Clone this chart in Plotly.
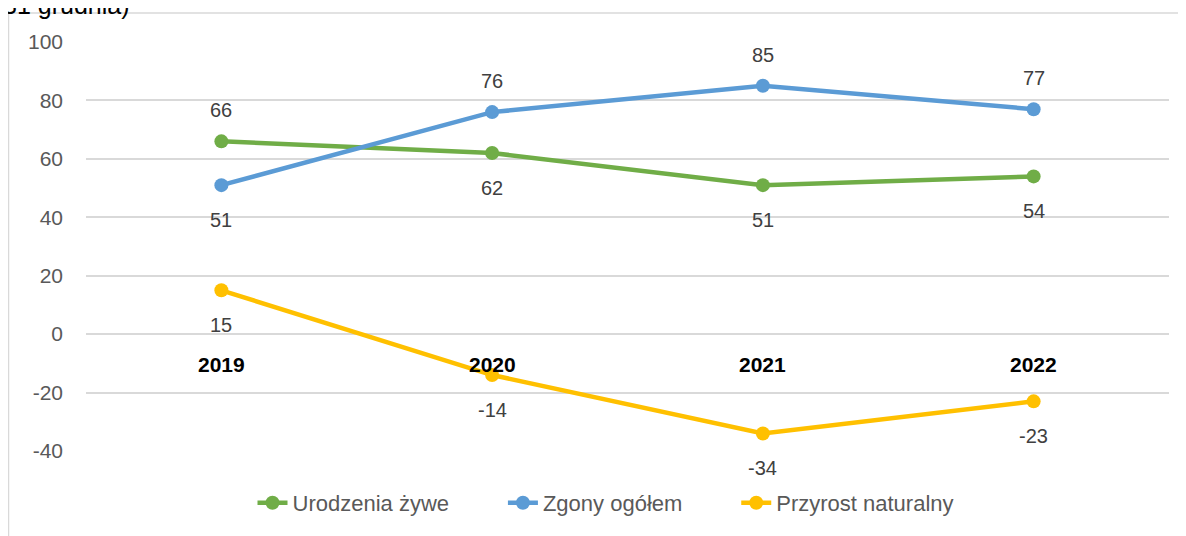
import plotly.graph_objects as go

YEARS = ["2019", "2020", "2021", "2022"]
URODZENIA = [66, 62, 51, 54]
ZGONY = [51, 76, 85, 77]
PRZYROST = [15, -14, -34, -23]

# which side of the point the data label sits on
URODZENIA_SIDE = ["above", "below", "below", "below"]
ZGONY_SIDE = ["below", "above", "above", "above"]
PRZYROST_SIDE = ["below", "below", "below", "below"]

Y_TICKS = [-40, -20, 0, 20, 40, 60, 80, 100]
Y_TICK_TEXT = ["-40", "-20", "0", "20", "40", "60", "80", "100"]

GREEN = "#70AD47"
BLUE = "#5B9BD5"
YELLOW = "#FFC000"
GRID = "#D9D9D9"
FONT = "Liberation Sans, Arial, sans-serif"

# the page body has an 8px margin, so the figure is drawn 8px in from the corner
OFF = 8
W, H = 1186 - OFF, 536 - OFF
PX0, PX1, PY0, PY1 = 86, 1169, 42, 451  # plot area in screen pixels
L, T = PX0 - OFF, PY0 - OFF
R = W - (PX1 - OFF)
B = H - (PY1 - OFF)
PW, PH = PX1 - PX0, PY1 - PY0


def px_x(p):
    return (p - PX0) / PW


def px_y(p):
    return (PY1 - p) / PH


series = [
    ("Urodzenia żywe", URODZENIA, URODZENIA_SIDE, GREEN),
    ("Zgony ogółem", ZGONY, ZGONY_SIDE, BLUE),
    ("Przyrost naturalny", PRZYROST, PRZYROST_SIDE, YELLOW),
]

pad = "\u00a0" * 8

fig = go.Figure()
annotations = []

for name, values, sides, color in series:
    fig.add_trace(
        go.Scatter(
            x=YEARS,
            y=values,
            name=name + pad,
            mode="lines+markers",
            line=dict(color=color, width=4.5),
            marker=dict(color=color, size=14),
            cliponaxis=False,
        )
    )
    for i, (v, side) in enumerate(zip(values, sides)):
        annotations.append(
            dict(
                x=i,
                y=v,
                xref="x",
                yref="y",
                text=str(v),
                showarrow=False,
                yshift=31 if side == "above" else -35,
                font=dict(size=20, color="#404040", family=FONT),
            )
        )

# category labels sit under the zero line, bold
for i, year in enumerate(YEARS):
    annotations.append(
        dict(
            x=i,
            y=0,
            xref="x",
            yref="y",
            text=f"<b>{year}</b>",
            showarrow=False,
            yshift=-30,
            font=dict(size=21, color="#000000", family=FONT),
        )
    )

# leftover of the title cut at the top of the picture
annotations.append(
    dict(
        x=px_x(1),
        y=px_y(21),
        xref="paper",
        yref="paper",
        xanchor="left",
        yanchor="bottom",
        text="31 grudnia)",
        showarrow=False,
        font=dict(size=25, color="#000000", family=FONT),
    )
)

shapes = [
    dict(type="line", xref="paper", yref="paper",
         x0=px_x(8.5), x1=px_x(8.5), y0=px_y(13), y1=px_y(560),
         line=dict(color=GRID, width=1.5)),
    dict(type="line", xref="paper", yref="paper",
         x0=px_x(8.5), x1=px_x(1200), y0=px_y(13), y1=px_y(13),
         line=dict(color=GRID, width=1.5)),
]

fig.update_layout(
    width=W,
    height=H,
    margin=dict(l=L, r=R, t=T, b=B),
    paper_bgcolor="white",
    plot_bgcolor="white",
    font=dict(family=FONT, color="#595959"),
    showlegend=True,
    legend=dict(
        orientation="h",
        x=px_x(630),
        xanchor="center",
        y=px_y(503),
        yanchor="middle",
        font=dict(size=22, color="#595959", family=FONT),
    ),
    annotations=annotations,
    shapes=shapes,
)

fig.update_xaxes(
    type="category",
    range=[-0.5, 3.5],
    showticklabels=False,
    showgrid=False,
    zeroline=False,
    showline=False,
)
fig.update_yaxes(
    range=[-40, 100],
    tickvals=Y_TICKS,
    ticktext=Y_TICK_TEXT,
    showgrid=True,
    gridcolor=GRID,
    gridwidth=1.5,
    zeroline=False,
    showline=False,
    ticklabelstandoff=22,
    tickfont=dict(size=21, color="#595959", family=FONT),
)

fig.write_html("out.html")
